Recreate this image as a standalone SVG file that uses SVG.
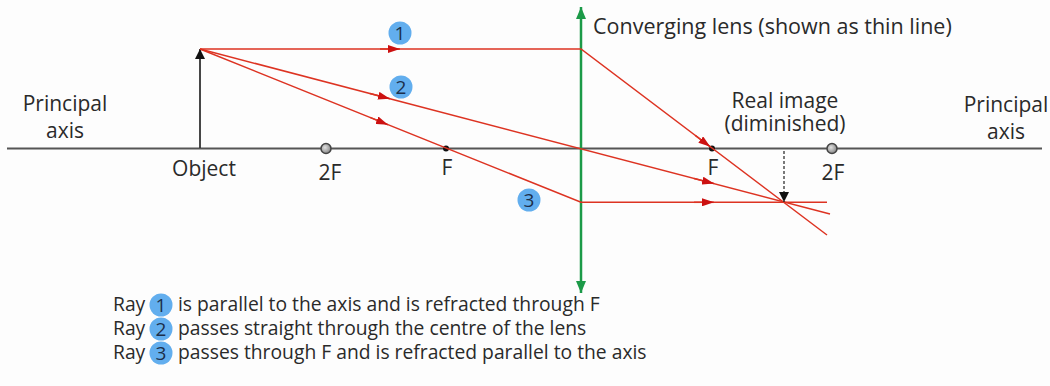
<svg xmlns="http://www.w3.org/2000/svg" width="1050" height="386" viewBox="0 0 1050 386">
  <style>
    text { font-family: "Open Sans", "Liberation Sans", sans-serif; fill: #2a2a2a; }
    .lbl { font-size: 21px; }
    .big { font-size: 21.5px; }
    .leg { font-size: 19.3px; }
    .mid { text-anchor: middle; }
    .ray { stroke: #dd3322; stroke-width: 1.5; fill: none; }
    .arr { stroke: #dd3322; stroke-width: 1.5; fill: none; marker-end: url(#redHead); }
    .badge { fill: #62aeee; }
    .num { font-size: 19px; text-anchor: middle; fill: #1c2e4a; }
  </style>
  <defs>
    <marker id="redHead" viewBox="0 0 12 8" refX="12" refY="4" markerWidth="12" markerHeight="8" markerUnits="userSpaceOnUse" orient="auto">
      <path d="M0,0 L12,4 L0,8 z" fill="#cc1111"/>
    </marker>
    <marker id="blackHead" viewBox="0 0 10 12" refX="10" refY="6" markerWidth="10" markerHeight="12" markerUnits="userSpaceOnUse" orient="auto">
      <path d="M0,1 L10,6 L0,11 z" fill="#111"/>
    </marker>
    <marker id="greenHead" viewBox="0 0 12 10" refX="12" refY="5" markerWidth="12" markerHeight="10" markerUnits="userSpaceOnUse" orient="auto">
      <path d="M0,0 L12,5 L0,10 z" fill="#1c9a48"/>
    </marker>
    <radialGradient id="dotGrad" cx="0.4" cy="0.4" r="0.6">
      <stop offset="0" stop-color="#e0e0e0"/>
      <stop offset="1" stop-color="#8a8a8a"/>
    </radialGradient>
  </defs>
  <rect width="1050" height="386" fill="#fdfdfd"/>

  <g id="principal-axis">
    <line x1="7" y1="148.5" x2="1042" y2="148.5" stroke="#555" stroke-width="2"/>
    <text class="lbl mid" x="65" y="111">Principal</text>
    <text class="lbl mid" x="65" y="138">axis</text>
    <text class="lbl mid" x="1006" y="112">Principal</text>
    <text class="lbl mid" x="1006" y="139">axis</text>
  </g>

  <g id="lens">
    <line x1="581" y1="150" x2="581" y2="7" stroke="#1c9a48" stroke-width="2.5" marker-end="url(#greenHead)"/>
    <line x1="581" y1="150" x2="581" y2="293" stroke="#1c9a48" stroke-width="2.5" marker-end="url(#greenHead)"/>
    <text class="big" x="593" y="34">Converging lens (shown as thin line)</text>
  </g>

  <g id="object">
    <line x1="200" y1="148" x2="200" y2="49" stroke="#333" stroke-width="1.8" marker-end="url(#blackHead)"/>
    <text class="lbl mid" x="204" y="176">Object</text>
  </g>

  <g id="left-2F">
    <circle cx="326" cy="148.5" r="5" fill="url(#dotGrad)" stroke="#444" stroke-width="1.5"/>
    <text class="lbl mid" x="330" y="180">2F</text>
  </g>
  <g id="left-F">
    <circle cx="446" cy="148.5" r="3" fill="#111"/>
    <text class="lbl mid" x="447" y="175">F</text>
  </g>
  <g id="right-F">
    <circle cx="712" cy="148.5" r="3" fill="#111"/>
    <text class="lbl mid" x="713" y="175">F</text>
  </g>
  <g id="right-2F">
    <circle cx="832" cy="148.5" r="5" fill="url(#dotGrad)" stroke="#444" stroke-width="1.5"/>
    <text class="lbl mid" x="833" y="180">2F</text>
  </g>

  <g id="connectors">
    <!-- Ray 1 -->
    <path class="ray" d="M200,49 L581,49 L827,235"/>
    <path class="arr" d="M380,49 L400,49"/>
    <path class="arr" d="M695.2,135.4 L710.3,146.8"/>
    <!-- Ray 2 -->
    <path class="ray" d="M200,49 L830,214"/>
    <path class="arr" d="M370,93.5 L390,98.8"/>
    <path class="arr" d="M694,178.4 L714,183.6"/>
    <!-- Ray 3 -->
    <path class="ray" d="M200,49 L581,202.3 L827,202.3"/>
    <path class="arr" d="M370,117.4 L388,124.7"/>
    <path class="arr" d="M694,202.3 L714,202.3"/>
    <!-- image -->
    <line x1="784" y1="151" x2="784" y2="202" stroke="#333" stroke-width="1.3" stroke-dasharray="3,2" marker-end="url(#blackHead)"/>
  </g>

  <g id="image">
    <text class="lbl mid" x="785" y="108">Real image</text>
    <text class="lbl mid" x="785" y="131">(diminished)</text>
  </g>

  <g id="badge-1">
    <circle class="badge" cx="400" cy="33" r="11.5"/>
    <text class="num" x="400" y="40">1</text>
  </g>
  <g id="badge-2">
    <circle class="badge" cx="401" cy="87" r="11.5"/>
    <text class="num" x="401" y="94">2</text>
  </g>
  <g id="badge-3">
    <circle class="badge" cx="529" cy="200" r="11.5"/>
    <text class="num" x="529" y="207">3</text>
  </g>

  <g id="legend">
    <text class="leg" x="113" y="311">Ray</text>
    <circle class="badge" cx="161" cy="305" r="11.5"/>
    <text class="num" x="161" y="312">1</text>
    <text class="leg" x="178" y="311">is parallel to the axis and is refracted through F</text>

    <text class="leg" x="113" y="335">Ray</text>
    <circle class="badge" cx="161" cy="329" r="11.5"/>
    <text class="num" x="161" y="336">2</text>
    <text class="leg" x="178" y="335">passes straight through the centre of the lens</text>

    <text class="leg" x="113" y="359">Ray</text>
    <circle class="badge" cx="161" cy="353" r="11.5"/>
    <text class="num" x="161" y="360">3</text>
    <text class="leg" x="178" y="359">passes through F and is refracted parallel to the axis</text>
  </g>
</svg>
